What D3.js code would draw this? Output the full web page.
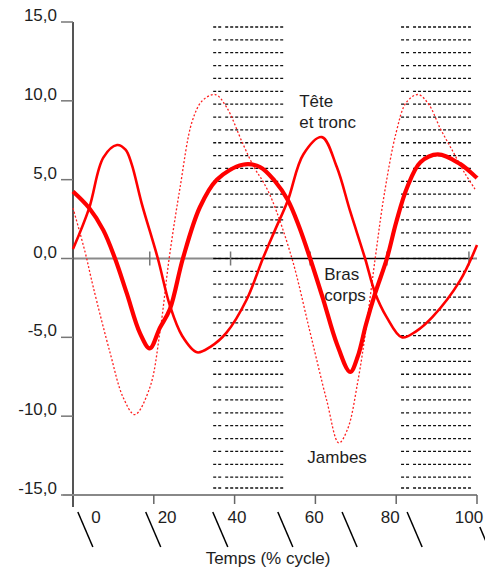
<!DOCTYPE html>
<html>
<head>
<meta charset="utf-8">
<script src="https://cdn.jsdelivr.net/npm/d3@7"></script>
<style>
  body { margin: 0; background: #fff; }
  svg text { font-family: "Liberation Sans", Arial, sans-serif; fill: #1e1e1e; }
</style>
</head>
<body>
<div id="chart"></div>
<script>
// % cycle values
var brasX = [0, 4, 7.5, 10.4, 13.3, 16.6, 19, 21.5, 24, 27.2, 31.4, 35.6, 42, 46.3, 50, 53.2, 56, 58.7, 62, 65.3, 68.6, 70.5, 72.5, 74.8, 77.7, 80, 82.7, 86, 90.3, 95.8, 100];
var brasY = [4.25, 3.2, 1.8, 0, -2.2, -4.75, -5.7, -4.4, -3.2, 0, 3.25, 5.0, 5.95, 5.8, 4.9, 3.7, 2.0, 0, -2.65, -5.4, -7.2, -6.2, -4.2, -2.2, 0, 2.3, 4.5, 6.1, 6.6, 6.0, 5.1];

var teteX = [0, 4, 7.5, 10.9, 13, 14.5, 17, 21, 24, 27, 30.7, 34, 38, 43, 47, 50, 53.2, 57, 61.6, 65.3, 68.6, 72.3, 74.8, 77.6, 81.4, 85, 89, 95.8, 100];
var teteY = [0.6, 3.2, 6.4, 7.2, 6.9, 6.0, 3.5, 0, -3.0, -4.9, -5.95, -5.6, -4.7, -2.6, 0, 1.8, 3.7, 6.6, 7.7, 5.8, 3.0, 0, -2.2, -3.7, -5.0, -4.6, -3.7, -1.4, 0.85];

var jambesX = [0, 3, 5, 9.2, 12.4, 15.3, 19, 21.5, 23.8, 26.5, 29.5, 32, 35.2, 38, 42, 45, 47, 49.3, 54.2, 58.7, 62.8, 65.8, 68, 70.5, 72.5, 74.8, 77, 80, 82.5, 85.4, 88, 91, 94, 97, 99.5];
var jambesY = [3.2, 0.4, -1.8, -6.0, -8.8, -9.9, -8.2, -4.7, 0, 4.5, 8.7, 10.0, 10.4, 9.6, 7.3, 5.7, 4.9, 3.7, 0, -4.7, -9.0, -11.7, -10.8, -7.8, -4.5, 0, 4.0, 8.0, 9.9, 10.4, 9.8, 8.2, 6.8, 5.4, 4.4];

var yTicks = [15, 10, 5, 0, -5, -10, -15];
var yTickLabels = ["15,0", "10,0", "5,0", "0,0", "-5,0", "-10,0", "-15,0"];
var xTicks = [0, 20, 40, 60, 80, 100];
var xTickLabels = ["0", "20", "40", "60", "80", "100"];
var xLabelAt = [5.7, 23.3, 40.6, 59.7, 78.5, 98];
var slashAt = [1.2, 18, 34.6, 50.7, 66.6, 82.7, 100.7];
var zeroTicks = [19, 39, 58.7, 77.7, 98];
// phases shown with dashed hatching
var bands = [[34.7, 52.2], [81.2, 98.5]];

var width = 485, height = 569;

var svg = d3.select("#chart").append("svg")
	.attr("width", width)
	.attr("height", height);

var x = d3.scaleLinear().domain([0, 100]).range([73, 477]);
var y = d3.scaleLinear().domain([-15, 15]).range([495, 22]);

// hatched bands
bands.forEach(function(b) {
	var rows = d3.range(y(15) + 5, y(-15) - 5, (y(-15) - y(15) - 10) / 36);
	rows.push(y(-15) - 7);
	var g = svg.append("g");
	rows.forEach(function(r) {
		g.append("line")
			.attr("x1", x(b[0])).attr("x2", x(b[0]) + 10)
			.attr("y1", r).attr("y2", r)
			.attr("stroke", "#111").attr("stroke-width", 1.3)
			.attr("stroke-dasharray", "3,2");
		g.append("line")
			.attr("x1", x(b[0]) + 12).attr("x2", x(b[1]))
			.attr("y1", r).attr("y2", r)
			.attr("stroke", "#111").attr("stroke-width", 1.3)
			.attr("stroke-dasharray", "3,2");
	});
});

// zero line
svg.append("line")
	.attr("x1", x(0)).attr("x2", x(100))
	.attr("y1", y(0)).attr("y2", y(0))
	.attr("stroke", "#8a8a8a").attr("stroke-width", 2);
svg.append("line")
	.attr("x1", x(bands[0][0])).attr("x2", x(99))
	.attr("y1", y(0)).attr("y2", y(0))
	.attr("stroke", "#000").attr("stroke-width", 1);
svg.selectAll(".zt").data(zeroTicks).enter().append("line")
	.attr("x1", d => x(d)).attr("x2", d => x(d))
	.attr("y1", y(0) - 7).attr("y2", y(0) + 7)
	.attr("stroke", "#777").attr("stroke-width", 1.5);

// y axis
svg.append("line")
	.attr("x1", x(0)).attr("x2", x(0))
	.attr("y1", y(15)).attr("y2", y(-15) + 12)
	.attr("stroke", "#555").attr("stroke-width", 2);
svg.selectAll(".yt").data(yTicks).enter().append("line")
	.attr("x1", x(0) - 12).attr("x2", x(0))
	.attr("y1", d => y(d)).attr("y2", d => y(d))
	.attr("stroke", "#777").attr("stroke-width", 1.5);
svg.selectAll(".yl").data(yTicks).enter().append("text")
	.attr("x", x(0) - 16)
	.attr("y", d => y(d) - 1)
	.attr("text-anchor", "end")
	.attr("font-size", 17)
	.text((d, i) => yTickLabels[i]);

// x axis
svg.append("line")
	.attr("x1", x(0) - 10).attr("x2", x(100))
	.attr("y1", y(-15)).attr("y2", y(-15))
	.attr("stroke", "#888").attr("stroke-width", 2);
svg.selectAll(".xt").data(xTicks.slice(1)).enter().append("line")
	.attr("x1", d => x(d)).attr("x2", d => x(d))
	.attr("y1", y(-15)).attr("y2", y(-15) + 9)
	.attr("stroke", "#666").attr("stroke-width", 1.5);
svg.selectAll(".xl").data(xTickLabels).enter().append("text")
	.attr("x", (d, i) => x(xLabelAt[i]))
	.attr("y", 523)
	.attr("text-anchor", "middle")
	.attr("font-size", 17)
	.text(d => d);
svg.selectAll(".sl").data(slashAt).enter().append("line")
	.attr("x1", d => x(d)).attr("x2", d => x(d) + 15)
	.attr("y1", (d, i) => i == slashAt.length - 1 ? 527 : 512)
	.attr("y2", (d, i) => i == slashAt.length - 1 ? 562 : 547)
	.attr("stroke", "#000").attr("stroke-width", 1.5);
svg.append("text")
	.attr("x", 268).attr("y", 564)
	.attr("text-anchor", "middle")
	.attr("font-size", 17)
	.text("Temps (% cycle)");

// curves
var line = d3.line()
	.x(d => x(d[0]))
	.y(d => y(d[1]))
	.curve(d3.curveCatmullRom.alpha(0.5));

svg.append("path")
	.datum(d3.zip(jambesX, jambesY))
	.attr("d", line)
	.attr("fill", "none")
	.attr("stroke", "#ff2020").attr("stroke-width", 1.3)
	.attr("stroke-dasharray", "2,2");
svg.append("path")
	.datum(d3.zip(teteX, teteY))
	.attr("d", line)
	.attr("fill", "none")
	.attr("stroke", "#ff0000").attr("stroke-width", 2.6);
svg.append("path")
	.datum(d3.zip(brasX, brasY))
	.attr("d", line)
	.attr("fill", "none")
	.attr("stroke", "#ff0000").attr("stroke-width", 4.2);

// curve labels
svg.append("text").attr("x", x(56)).attr("y", 107).attr("font-size", 17).text("Tête");
svg.append("text").attr("x", x(56)).attr("y", 128).attr("font-size", 17).text("et tronc");
svg.append("text").attr("x", x(62.2)).attr("y", 280).attr("font-size", 17).text("Bras");
svg.append("text").attr("x", x(62.2)).attr("y", 301).attr("font-size", 17).text("corps");
svg.append("text").attr("x", x(58)).attr("y", 463).attr("font-size", 17).text("Jambes");
</script>
</body>
</html>
